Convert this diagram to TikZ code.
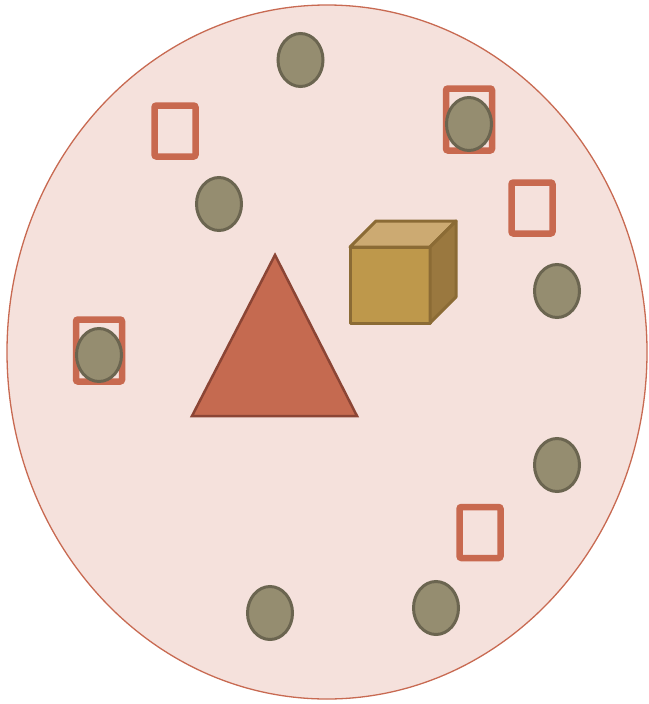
\documentclass[tikz,border=0pt]{standalone}
\usetikzlibrary{shapes.geometric}
\definecolor{bgfill}{HTML}{F5E1DC}
\definecolor{bgline}{HTML}{C86A52}
\definecolor{olfill}{HTML}{958D70}
\definecolor{olline}{HTML}{6B6550}
\definecolor{sqline}{HTML}{C8694F}
\definecolor{trfill}{HTML}{C56A50}
\definecolor{trline}{HTML}{8B4535}
\definecolor{cbfront}{HTML}{BE984B}
\definecolor{cbtop}{HTML}{CCAA72}
\definecolor{cbside}{HTML}{9A783F}
\definecolor{cbline}{HTML}{8B6B35}
\tikzset{
  dot/.style={ellipse, draw=olline, fill=olfill, line width=3pt, minimum width=45pt, minimum height=53pt, inner sep=0pt},
  frame/.style={rectangle, draw=sqline, line width=6.5pt, rounded corners=2pt, inner sep=0pt},
  smallframe/.style={frame, minimum width=41pt, minimum height=51pt},
  bigframe/.style={frame, minimum width=46pt, minimum height=62pt},
  cubeface/.style={draw=cbline, line width=3pt, line join=round}
}
\begin{document}
\begin{tikzpicture}[x=1pt,y=-1pt]
\useasboundingbox (0,0) rectangle (648,704);
\draw[fill=bgfill, draw=bgline, line width=1.3pt] (327,352) ellipse [x radius=320, y radius=347];
% frames
\node[smallframe] (f1) at (175,131) {};
\node[bigframe] (f2) at (469,119.5) {};
\node[smallframe] (f3) at (532,208) {};
\node[bigframe] (f4) at (99,350.5) {};
\node[smallframe] (f5) at (480,532.5) {};
% dots
\node[dot] (d1) at (300.5,60) {};
\node[dot] (d2) at (469,124) {};
\node[dot] (d3) at (219,204) {};
\node[dot] (d4) at (557,291) {};
\node[dot] (d5) at (99,355) {};
\node[dot] (d6) at (557,465) {};
\node[dot] (d7) at (436,608) {};
\node[dot] (d8) at (270,613) {};
% triangle
\draw[fill=trfill, draw=trline, line width=2.5pt, line join=miter] (275,255) -- (357,416) -- (192,416) -- cycle;
% cube
\draw[cubeface, fill=cbfront] (350,247) rectangle (430,323);
\draw[cubeface, fill=cbtop] (350,247) -- (376,221) -- (456,221) -- (430,247) -- cycle;
\draw[cubeface, fill=cbside] (430,247) -- (456,221) -- (456,297) -- (430,323) -- cycle;
\end{tikzpicture}
\end{document}
